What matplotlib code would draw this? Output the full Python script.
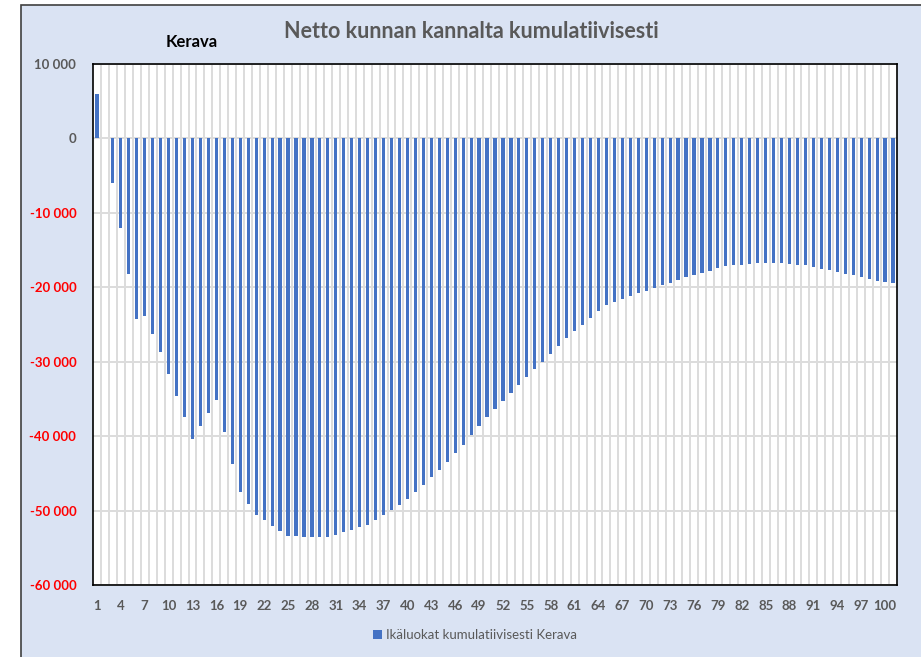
import numpy as np
import matplotlib
matplotlib.use('Agg')
import matplotlib.pyplot as plt
from matplotlib.patches import Rectangle

# age classes 1..101, cumulative net value for the municipality
ages = list(range(1, 102))
values = [6000, 0, -6030, -12090, -18190, -24200, -23850, -26270, -28740, -31650,
          -34570, -37480, -40400, -38600, -36900, -35150, -39410, -43720, -47530, -49060,
          -50580, -51300, -52060, -52730, -53460, -53460, -53500, -53500, -53500, -53540,
          -53230, -52920, -52560, -52250, -51930, -51250, -50580, -49910, -49190, -48430,
          -47490, -46540, -45520, -44530, -43500, -42330, -41160, -39910, -38690, -37480,
          -36410, -35330, -34250, -33180, -32100, -30980, -29990, -28910, -27890, -26810,
          -25910, -25010, -24120, -23220, -22320, -21960, -21560, -21200, -20830, -20480,
          -20120, -19760, -19400, -19000, -18680, -18330, -18060, -17790, -17470, -17160,
          -17030, -16980, -16890, -16800, -16710, -16710, -16800, -16890, -16980, -17070,
          -17250, -17520, -17740, -17920, -18150, -18370, -18640, -18870, -19090, -19270,
          -19490]
y_ticks = [10000, 0, -10000, -20000, -30000, -40000, -50000, -60000]
y_labels = ['10 000', '0', '-10 000', '-20 000', '-30 000', '-40 000', '-50 000', '-60 000']
x_labels = [str(a) for a in ages[::3]]

bg = '#DAE3F3'
bar_color = '#4472C4'
gray = '#595959'

plt.rcParams['font.family'] = ['Lato', 'DejaVu Sans']

fig = plt.figure(figsize=(9.21, 6.57), dpi=100, facecolor='white')
fig.patches.append(Rectangle((21 / 921, -0.05), 1.0, 1.05 - 5 / 657,
                             transform=fig.transFigure, facecolor=bg,
                             edgecolor='#404040', linewidth=1.2, zorder=-5))

ax = fig.add_axes([93 / 921, 1 - 585 / 657, 804 / 921, 521 / 657])
ax.set_zorder(2)
ax.set_facecolor('white')
ax.bar(ages, values, width=0.4, color=bar_color, zorder=3,
       label='Ikäluokat kumulatiivisesti Kerava')

ax.set_xlim(0.5, 101.5)
ax.set_ylim(-60000, 10000)

ax.set_yticks(y_ticks)
ax.set_yticklabels(y_labels, fontsize=9.5, fontweight='bold')
for lab, v in zip(ax.get_yticklabels(), y_ticks):
    lab.set_color('red' if v < 0 else gray)

ax.set_xticks(ages[::3])
ax.set_xticklabels(x_labels, fontsize=9.5, fontweight='bold', color=gray)
ax.set_xticks(np.arange(1.5, 101.5, 1), minor=True)

ax.tick_params(axis='both', which='both', length=0)
ax.tick_params(axis='y', pad=12)
ax.tick_params(axis='x', pad=10.5)

ax.grid(axis='y', which='major', color='#DCDCDC', linewidth=1.4, zorder=1)
ax.grid(axis='x', which='minor', color='#DCDCDC', linewidth=1.4, zorder=1)
ax.grid(axis='x', which='major', visible=False)

for s in ax.spines.values():
    s.set_color('black')
    s.set_linewidth(1.2)

fig.text(471 / 921, 1 - 31 / 657, 'Netto kunnan kannalta kumulatiivisesti',
         ha='center', va='center', fontsize=15.5, fontweight='bold', color=gray)
fig.text(192 / 921, 1 - 42 / 657, 'Kerava', ha='center', va='center',
         fontsize=12, fontweight='bold', color='black')

leg = ax.legend(loc='center', bbox_to_anchor=(475 / 921, 1 - 635 / 657),
                bbox_transform=fig.transFigure, frameon=False,
                handlelength=0.7, handleheight=0.7, handletextpad=0.3,
                prop={'size': 9.5})
for t in leg.get_texts():
    t.set_color(gray)

fig.savefig('out.png', dpi=100, facecolor=fig.get_facecolor())
